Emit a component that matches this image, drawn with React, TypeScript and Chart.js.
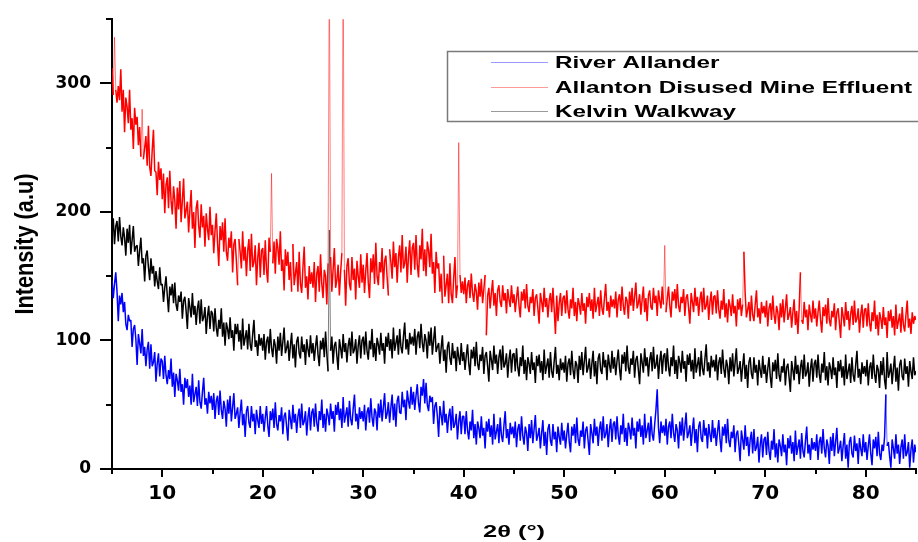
import React, { useEffect, useRef } from "react";
import { Chart, registerables } from "chart.js";

Chart.register(...registerables);

// 2θ sampling grid of the scans (degrees)
const ANGLE_START = 5;
const ANGLE_STEP = 0.125;

// Intensity (a.u.), one value per 0.125° from 5° to 85° (one line = 5°)
const riverAllander = [
  147, 133, 144, 153, 138, 115, 135, 128, 137, 122, 130, 113, 108, 120, 115, 116, 95, 109, 112, 101, 81, 105, 98, 90, 109, 88, 95, 80, 93, 99, 78, 97, 80, 83, 91, 68, 82, 90, 72, 86,
  84, 70, 88, 73, 66, 77, 70, 86, 64, 75, 56, 74, 69, 61, 78, 60, 66, 50, 71, 63, 70, 56, 65, 50, 74, 52, 58, 64, 49, 69, 52, 47, 60, 71, 50, 55, 43, 60, 51, 57,
  46, 59, 39, 53, 57, 42, 61, 46, 39, 53, 47, 33, 54, 43, 57, 37, 48, 59, 39, 43, 48, 32, 44, 54, 34, 43, 25, 45, 49, 36, 32, 49, 37, 43, 27, 46, 38, 32, 49, 35,
  43, 29, 40, 49, 34, 25, 45, 38, 47, 32, 52, 35, 30, 42, 37, 48, 27, 41, 44, 33, 22, 46, 39, 31, 50, 36, 43, 28, 41, 47, 32, 51, 34, 37, 45, 26, 40, 48, 30, 44,
  47, 33, 51, 36, 29, 45, 38, 54, 32, 43, 29, 47, 42, 34, 51, 39, 45, 29, 50, 42, 52, 38, 47, 32, 56, 36, 42, 48, 33, 53, 39, 34, 47, 58, 37, 43, 31, 48, 39, 45,
  37, 50, 30, 44, 48, 36, 55, 40, 33, 47, 44, 30, 51, 40, 54, 37, 48, 59, 39, 43, 52, 36, 48, 58, 38, 51, 33, 53, 57, 44, 43, 60, 48, 54, 38, 61, 53, 47, 64, 50,
  60, 46, 57, 66, 51, 44, 64, 57, 70, 51, 67, 50, 45, 57, 52, 56, 35, 49, 52, 41, 25, 49, 42, 34, 53, 36, 43, 28, 41, 47, 30, 49, 32, 35, 43, 23, 37, 45, 27, 41,
  41, 27, 45, 30, 23, 37, 30, 46, 24, 35, 19, 37, 32, 24, 41, 26, 32, 16, 37, 29, 39, 25, 34, 19, 43, 23, 29, 35, 20, 40, 26, 21, 34, 45, 24, 31, 19, 36, 27, 33,
  24, 37, 17, 31, 35, 22, 41, 26, 19, 33, 28, 14, 35, 24, 38, 20, 31, 42, 22, 26, 32, 16, 28, 38, 18, 29, 11, 31, 35, 22, 18, 35, 23, 29, 13, 33, 25, 19, 36, 22,
  30, 16, 27, 36, 21, 13, 33, 26, 35, 20, 40, 23, 18, 30, 25, 37, 16, 30, 33, 22, 11, 35, 28, 20, 39, 26, 33, 18, 31, 37, 22, 41, 24, 27, 35, 17, 31, 39, 21, 35,
  37, 23, 41, 26, 19, 34, 27, 43, 21, 32, 18, 36, 31, 23, 40, 26, 32, 16, 37, 29, 39, 25, 34, 19, 43, 24, 30, 36, 21, 41, 27, 22, 35, 46, 62, 32, 20, 37, 28, 34,
  26, 39, 19, 33, 37, 24, 43, 28, 21, 35, 30, 16, 37, 26, 40, 22, 33, 44, 24, 28, 34, 18, 30, 40, 20, 31, 13, 33, 37, 24, 21, 38, 26, 32, 16, 35, 27, 21, 38, 24,
  32, 18, 29, 38, 23, 13, 33, 26, 35, 20, 39, 22, 17, 29, 24, 34, 13, 27, 30, 19, 6, 30, 23, 15, 34, 18, 25, 10, 23, 29, 12, 31, 14, 17, 25, 5, 19, 27, 9, 23,
  25, 11, 29, 14, 7, 22, 15, 31, 9, 20, 5, 23, 18, 10, 27, 13, 19, 3, 24, 16, 26, 12, 21, 6, 30, 11, 17, 23, 8, 28, 14, 9, 22, 33, 12, 19, 7, 24, 15, 21,
  14, 27, 7, 21, 25, 12, 31, 16, 9, 23, 18, 4, 25, 14, 28, 10, 21, 32, 12, 16, 22, 6, 18, 28, 8, 19, 1, 21, 25, 12, 9, 26, 14, 20, 4, 24, 16, 10, 27, 13,
  21, 7, 18, 27, 12, 3, 23, 16, 25, 10, 29, 12, 7, 19, 14, 25, 58, 18, 21, 10, 1, 23, 16, 8, 27, 12, 19, 4, 17, 23, 8, 27, 10, 13, 21, 1, 15, 23, 5, 19,
  13,
];

const allantonEffluent = [
  312, 291, 336, 295, 285, 298, 287, 311, 278, 295, 262, 289, 282, 269, 295, 264, 273, 249, 281, 268, 274, 252, 266, 243, 280, 241, 250, 259, 236, 267, 235, 228, 248, 264, 232, 231, 213, 239, 225, 234,
  210, 230, 199, 221, 227, 203, 232, 209, 198, 220, 209, 187, 219, 202, 224, 192, 209, 226, 195, 201, 208, 184, 202, 217, 187, 200, 172, 203, 209, 189, 180, 206, 188, 197, 173, 199, 187, 178, 204, 182,
  190, 168, 185, 199, 176, 158, 189, 178, 192, 169, 195, 169, 162, 180, 172, 185, 153, 175, 179, 162, 143, 179, 169, 156, 185, 162, 173, 150, 170, 179, 154, 183, 157, 161, 174, 143, 164, 176, 149, 170,
  172, 151, 178, 155, 145, 180, 169, 230, 160, 177, 152, 179, 172, 159, 185, 154, 163, 139, 171, 158, 169, 147, 161, 138, 175, 143, 152, 161, 138, 169, 144, 137, 157, 173, 141, 150, 132, 158, 144, 153,
  141, 161, 130, 152, 158, 138, 167, 144, 133, 155, 150, 128, 160, 400, 165, 138, 155, 172, 141, 147, 159, 135, 153, 168, 400, 155, 127, 158, 164, 144, 139, 165, 147, 156, 132, 162, 150, 141, 167, 145,
  159, 137, 154, 168, 145, 133, 164, 153, 167, 144, 176, 150, 143, 161, 153, 172, 140, 162, 166, 149, 135, 171, 161, 148, 177, 157, 168, 145, 165, 174, 153, 182, 156, 160, 173, 145, 166, 178, 151, 172,
  176, 155, 182, 159, 149, 174, 163, 187, 154, 171, 150, 177, 170, 157, 183, 152, 161, 137, 169, 156, 160, 138, 152, 129, 166, 134, 143, 152, 129, 160, 136, 129, 149, 165, 133, 143, 254, 151, 137, 146,
  136, 149, 129, 143, 147, 133, 152, 137, 130, 144, 138, 124, 145, 134, 148, 129, 140, 151, 104, 135, 141, 125, 137, 147, 127, 137, 119, 139, 143, 130, 126, 143, 131, 137, 121, 140, 132, 126, 143, 129,
  136, 122, 133, 142, 127, 118, 138, 131, 140, 125, 144, 127, 122, 134, 129, 140, 119, 133, 136, 125, 113, 137, 130, 122, 141, 126, 133, 118, 131, 137, 122, 141, 124, 105, 135, 115, 129, 137, 119, 133,
  135, 121, 139, 124, 117, 132, 125, 141, 119, 130, 115, 133, 128, 120, 137, 123, 129, 113, 134, 126, 137, 123, 132, 117, 141, 122, 128, 134, 119, 139, 125, 120, 133, 144, 123, 130, 118, 135, 126, 132,
  125, 138, 118, 132, 136, 123, 142, 127, 120, 134, 131, 117, 138, 127, 141, 123, 134, 145, 125, 129, 136, 120, 132, 142, 122, 133, 115, 135, 139, 126, 124, 141, 129, 135, 119, 139, 131, 125, 142, 128,
  174, 122, 133, 142, 127, 118, 138, 131, 140, 125, 144, 127, 122, 134, 129, 140, 119, 133, 136, 125, 113, 137, 130, 122, 141, 127, 134, 119, 132, 138, 122, 141, 124, 127, 135, 116, 130, 138, 120, 134,
  135, 121, 139, 124, 117, 131, 124, 140, 118, 129, 114, 132, 127, 119, 136, 121, 127, 111, 132, 124, 133, 119, 128, 169, 137, 118, 124, 130, 115, 135, 120, 115, 128, 139, 118, 125, 113, 130, 121, 127,
  118, 131, 111, 125, 129, 116, 135, 120, 113, 127, 122, 108, 129, 118, 132, 114, 125, 136, 116, 120, 126, 110, 122, 132, 112, 123, 105, 125, 153, 116, 113, 130, 118, 124, 108, 128, 120, 114, 131, 117,
  125, 111, 122, 131, 116, 106, 126, 119, 128, 113, 133, 116, 111, 123, 118, 129, 108, 122, 125, 114, 102, 126, 119, 111, 130, 116, 123, 108, 121, 127, 112, 131, 114, 117, 125, 106, 120, 128, 110, 124,
  125, 111, 129, 114, 107, 122, 115, 131, 109, 120, 104, 122, 117, 109, 126, 112, 118, 102, 123, 115, 124, 110, 119, 104, 128, 109, 115, 121, 106, 126, 112, 107, 120, 131, 110, 117, 105, 122, 113, 119,
  116,
];

const kelvinWalkway = [
  182, 195, 175, 189, 193, 177, 196, 181, 174, 188, 180, 166, 187, 176, 190, 167, 178, 189, 169, 173, 174, 158, 170, 180, 160, 164, 146, 166, 170, 157, 147, 164, 152, 158, 142, 154, 146, 140, 157, 143,
  144, 130, 141, 150, 135, 122, 142, 135, 144, 129, 145, 128, 123, 135, 130, 138, 117, 131, 134, 123, 109, 133, 126, 118, 137, 120, 127, 112, 125, 131, 113, 132, 115, 118, 126, 105, 119, 127, 109, 123,
  121, 107, 125, 110, 103, 116, 109, 125, 103, 114, 96, 114, 109, 101, 118, 102, 108, 92, 113, 105, 113, 99, 108, 93, 117, 96, 102, 108, 93, 113, 97, 92, 105, 116, 95, 100, 88, 105, 96, 102,
  92, 105, 85, 99, 103, 90, 109, 94, 87, 101, 96, 82, 103, 92, 106, 88, 99, 110, 90, 94, 100, 84, 96, 106, 86, 97, 79, 99, 103, 90, 86, 103, 91, 97, 81, 101, 93, 87, 104, 90,
  98, 84, 95, 104, 89, 80, 100, 93, 102, 87, 107, 90, 76, 186, 92, 103, 82, 96, 99, 88, 77, 101, 94, 86, 105, 91, 98, 83, 96, 102, 88, 107, 90, 93, 101, 82, 96, 104, 86, 100,
  103, 89, 107, 92, 85, 100, 93, 109, 87, 98, 84, 102, 97, 89, 106, 92, 98, 82, 103, 95, 106, 92, 101, 86, 110, 92, 98, 104, 89, 109, 95, 90, 103, 114, 93, 101, 89, 106, 97, 103,
  96, 109, 89, 103, 107, 94, 113, 98, 91, 105, 100, 86, 107, 96, 110, 89, 100, 111, 91, 95, 98, 82, 94, 104, 84, 93, 75, 95, 99, 86, 81, 98, 86, 92, 76, 95, 87, 81, 98, 84,
  91, 77, 88, 97, 82, 73, 93, 86, 95, 80, 99, 82, 77, 89, 84, 95, 74, 88, 91, 80, 68, 92, 85, 77, 96, 82, 89, 74, 87, 93, 77, 96, 79, 82, 90, 71, 85, 93, 75, 89,
  90, 76, 94, 79, 72, 87, 80, 96, 74, 85, 69, 87, 82, 74, 91, 77, 83, 67, 88, 80, 89, 75, 84, 69, 93, 74, 80, 86, 71, 91, 76, 71, 84, 95, 74, 81, 69, 86, 77, 83,
  75, 88, 68, 82, 86, 73, 92, 77, 70, 84, 81, 67, 88, 77, 91, 73, 84, 95, 75, 79, 86, 70, 82, 92, 72, 84, 66, 86, 90, 77, 74, 91, 79, 85, 69, 89, 81, 75, 92, 78,
  87, 73, 84, 93, 78, 69, 89, 82, 91, 76, 96, 79, 74, 86, 81, 92, 71, 85, 88, 77, 66, 90, 83, 75, 94, 80, 87, 72, 85, 91, 76, 95, 78, 81, 89, 70, 84, 92, 74, 88,
  90, 76, 94, 79, 72, 87, 80, 96, 74, 85, 70, 88, 83, 75, 92, 78, 84, 68, 89, 81, 90, 76, 85, 70, 94, 75, 81, 87, 72, 92, 78, 73, 86, 97, 76, 83, 71, 88, 79, 85,
  76, 89, 69, 83, 87, 74, 93, 78, 71, 85, 80, 66, 87, 76, 90, 72, 83, 94, 74, 78, 84, 68, 80, 90, 70, 81, 63, 83, 87, 74, 70, 87, 75, 81, 65, 85, 77, 71, 88, 74,
  81, 67, 78, 87, 72, 63, 83, 76, 85, 70, 90, 73, 68, 80, 75, 86, 65, 79, 82, 71, 60, 84, 77, 69, 88, 74, 81, 66, 79, 85, 70, 89, 72, 75, 83, 64, 78, 86, 68, 82,
  85, 71, 89, 74, 67, 82, 75, 91, 69, 80, 65, 83, 78, 70, 87, 73, 79, 63, 84, 76, 85, 71, 80, 65, 89, 70, 76, 82, 67, 87, 73, 68, 81, 92, 71, 78, 66, 83, 74, 80,
  72, 85, 65, 79, 83, 70, 89, 74, 67, 81, 77, 63, 84, 73, 87, 69, 62, 91, 71, 75, 82, 66, 78, 88, 68, 79, 61, 81, 85, 72, 69, 86, 74, 80, 64, 84, 76, 70, 87, 73,
  76,
];

const seriesNames = ["River Allander", "Allanton Disused Mine Effluent", "Kelvin Walkway"];
const seriesColors = ["#0000ff", "#ff0000", "#000000"];
const spikeColors = ["rgba(0,0,255,0.55)", "rgba(255,0,0,0.5)", "rgba(0,0,0,0.5)"];
const legendColors = ["#9a9aff", "#ff9a9a", "#9a9a9a"];

const xTickValues = [10, 20, 30, 40, 50, 60, 70, 80];
const xMinorTickValues = [5, 15, 25, 35, 45, 55, 65, 75, 85];
const yTickValues = [0, 100, 200, 300];
const yMinorTickValues = [50, 150, 250, 350];
const xTitle = "2θ (°)";
const yTitle = "Intensity (a.u)";

const toPoints = (vals: number[]) =>
  vals.map((v, i) => ({ x: ANGLE_START + i * ANGLE_STEP, y: v }));

const decorPlugin = {
  id: "decor",
  afterDraw(chart: any) {
    const { ctx, chartArea, scales } = chart;
    const xs = scales.x;
    const ys = scales.y;
    ctx.save();
    // tick marks
    ctx.strokeStyle = "#000";
    ctx.lineWidth = 2;
    ctx.beginPath();
    yTickValues.forEach((v) => {
      const p = Math.round(ys.getPixelForValue(v));
      ctx.moveTo(chartArea.left - 12, p);
      ctx.lineTo(chartArea.left, p);
    });
    yMinorTickValues.forEach((v) => {
      const p = Math.round(ys.getPixelForValue(v));
      ctx.moveTo(chartArea.left - 6, p);
      ctx.lineTo(chartArea.left, p);
    });
    xTickValues.forEach((v) => {
      const p = Math.round(xs.getPixelForValue(v));
      ctx.moveTo(p, chartArea.bottom);
      ctx.lineTo(p, chartArea.bottom + 8);
    });
    xMinorTickValues.forEach((v) => {
      const p = Math.round(xs.getPixelForValue(v));
      ctx.moveTo(p, chartArea.bottom);
      ctx.lineTo(p, chartArea.bottom + 5);
    });
    ctx.stroke();

    // axis titles
    ctx.fillStyle = "#000";
    ctx.save();
    ctx.translate(32.5, (chartArea.top + chartArea.bottom) / 2);
    ctx.rotate(-Math.PI / 2);
    ctx.scale(1, 1.22);
    ctx.font = 'bold 21.7px "Liberation Sans", Arial, sans-serif';
    ctx.textAlign = "center";
    ctx.textBaseline = "alphabetic";
    ctx.fillText(yTitle, 0, 0);
    ctx.restore();

    ctx.save();
    ctx.font = 'bold 16px "Liberation Sans", Arial, sans-serif';
    const w = ctx.measureText(xTitle).width;
    ctx.translate((chartArea.left + chartArea.right) / 2, 536.7);
    ctx.scale(62 / w, 1);
    ctx.textAlign = "center";
    ctx.textBaseline = "alphabetic";
    ctx.fillText(xTitle, 0, 0);
    ctx.restore();

    // legend
    ctx.fillStyle = "#fff";
    ctx.fillRect(447.5, 51.5, 520, 70);
    ctx.strokeStyle = "#7a7a7a";
    ctx.lineWidth = 1.5;
    ctx.strokeRect(447.5, 51.5, 520, 70);
    const lineYs = [62, 87, 111];
    const baseYs = [68.3, 93.3, 116.7];
    seriesNames.forEach((name, i) => {
      ctx.strokeStyle = legendColors[i];
      ctx.lineWidth = 1;
      ctx.beginPath();
      ctx.moveTo(491, lineYs[i] + 0.5);
      ctx.lineTo(548, lineYs[i] + 0.5);
      ctx.stroke();
      ctx.save();
      ctx.translate(555, baseYs[i]);
      ctx.scale(1.47, 1);
      ctx.font = 'bold 16.5px "Liberation Sans", Arial, sans-serif';
      ctx.textAlign = "left";
      ctx.textBaseline = "alphabetic";
      ctx.fillStyle = "#000";
      ctx.fillText(name, 0, 0);
      ctx.restore();
    });
    ctx.restore();
  },
};

export default function App() {
  const canvasRef = useRef<HTMLCanvasElement | null>(null);

  useEffect(() => {
    const canvas = canvasRef.current;
    if (!canvas) return;
    const series = [riverAllander, allantonEffluent, kelvinWalkway];
    const chart = new Chart(canvas, {
      type: "line",
      data: {
        datasets: series.map((vals, i) => ({
          label: seriesNames[i],
          data: toPoints(vals),
          borderColor: seriesColors[i],
          borderWidth: 1.5,
          borderJoinStyle: "bevel" as const,
          pointRadius: 0,
          tension: 0,
          fill: false,
          segment: {
            // tall, isolated spikes are drawn as thin light strokes, as in the scan
            borderColor: (c: any) =>
              Math.abs(c.p1.y - c.p0.y) > 45 ? spikeColors[i] : undefined,
            borderWidth: (c: any) => (Math.abs(c.p1.y - c.p0.y) > 45 ? 1 : undefined),
          },
        })),
      },
      plugins: [decorPlugin],
      options: {
        responsive: false,
        animation: false,
        devicePixelRatio: 1,
        layout: { padding: { left: 0, right: 2, top: 15, bottom: 0 } },
        plugins: {
          legend: { display: false },
          tooltip: { enabled: false },
          title: { display: false },
        },
        scales: {
          x: {
            type: "linear",
            min: 5,
            max: 85,
            afterFit: (scale: any) => {
              scale.height = 73;
            },
            afterBuildTicks: (scale: any) => {
              scale.ticks = xTickValues.map((v) => ({ value: v }));
            },
            grid: {
              display: true,
              drawOnChartArea: false,
              drawTicks: true,
              tickLength: 8,
              tickColor: "rgba(0,0,0,0)",
            },
            border: { display: true, color: "#000", width: 2 },
            ticks: {
              color: "#000",
              padding: 5,
              maxRotation: 0,
              autoSkip: false,
              font: { family: '"DejaVu Sans", sans-serif', size: 20, weight: "bold" },
              callback: (v: any) => String(v),
            },
          },
          y: {
            type: "linear",
            min: 0,
            max: 350,
            afterFit: (scale: any) => {
              scale.width = 112;
            },
            afterBuildTicks: (scale: any) => {
              scale.ticks = yTickValues.map((v) => ({ value: v }));
            },
            grid: {
              display: true,
              drawOnChartArea: false,
              drawTicks: true,
              tickLength: 12,
              tickColor: "rgba(0,0,0,0)",
            },
            border: { display: true, color: "#000", width: 2 },
            ticks: {
              color: "#000",
              padding: 9,
              autoSkip: false,
              font: { family: '"DejaVu Sans", sans-serif', size: 17, weight: "bold" },
              callback: (v: any) => String(v),
            },
          },
        },
      },
    });
    return () => chart.destroy();
  }, []);

  return (
    <div style={{ position: "fixed", left: 0, top: 0, width: 918, height: 542, background: "#fff" }}>
      <canvas ref={canvasRef} width={918} height={542} style={{ display: "block", width: 918, height: 542 }} />
    </div>
  );
}
